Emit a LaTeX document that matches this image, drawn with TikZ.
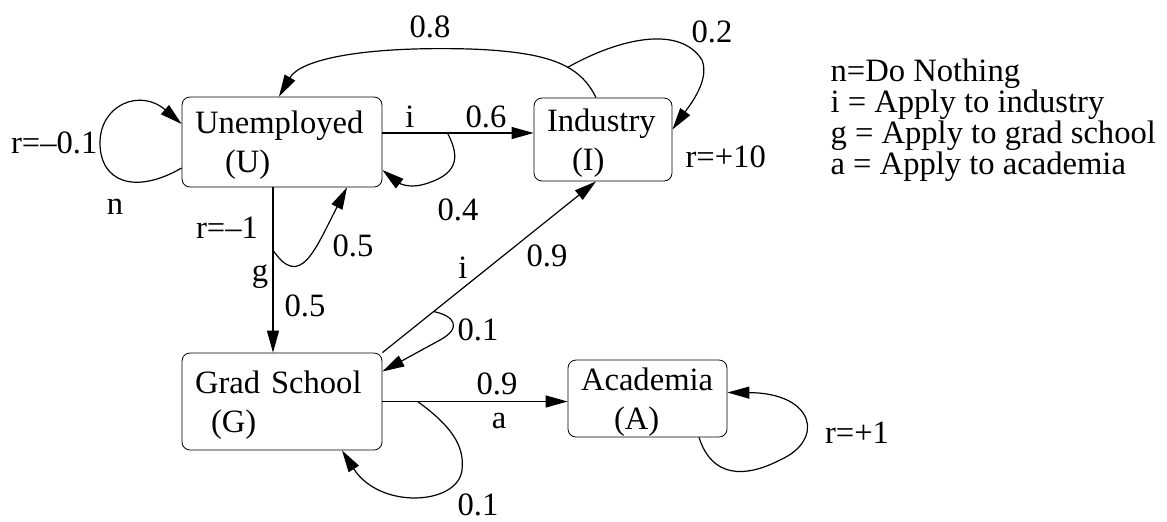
\documentclass[tikz,border=0pt]{standalone}
\usepackage{fontspec}
\setmainfont{Liberation Serif}
\usetikzlibrary{arrows.meta}

\tikzset{
  state/.style={draw, thin, rounded corners=4pt, align=left, inner xsep=6.5pt, inner ysep=2pt,
    font=\fontsize{16.3}{19.5}\selectfont},
  lbl/.style={inner sep=0pt, font=\fontsize{16.3}{19}\selectfont},
}

\begin{document}
\begin{tikzpicture}[x=0.5pt, y=-0.5pt, line width=0.6pt, >={Triangle[length=11pt,width=6pt]}]
\useasboundingbox (0,0) rectangle (1167,521);

% states
\node [state, minimum width=100pt, minimum height=45pt, text width=87pt] (U) at (282,142) {Unemployed\\\hspace*{15pt}\smash{(U)}};
\node [state, minimum width=69pt, minimum height=41.5pt, text width=56pt] (I) at (603,139.5) {Industry\\\hspace*{12.5pt}\smash{(I)}};
\node [state, minimum width=100pt, minimum height=48.5pt, text width=87pt] (G) at (282,401.5) {Grad School\\\hspace*{8pt}\smash{(G)}};
\node [state, minimum width=79.5pt, minimum height=38.5pt, text width=66.5pt] (A) at (647.5,398.5) {Academia\\\hspace*{16.5pt}\smash{(A)}};

% n from U
\draw [->] ([yshift=-13pt]U.west) .. controls (135,195) and (100,182) .. (100,143) .. controls (100,105) and (140,88) .. ([yshift=9pt]U.west);
\node [lbl, anchor=east] (r_U) at (98,143) {r=–0.1};
\node [lbl] (p_n) at (115,207) {n};

% from I
\draw [->] ([xshift=-3.5pt]I.north) .. controls (580,65) and (550,52) .. (470,49) coordinate[pos=0.4] (i_b) .. controls (360,46) and (300,60) .. ([xshift=-1.5pt]U.north);
\draw [->] (i_b) .. controls (620,38) and (680,25) .. (702,60) .. controls (710,80) and (690,105) .. ([yshift=5pt]I.east);
\node [lbl] (p_IU) at (430,27) {0.8};
\node [lbl] (p_II) at (712,32) {0.2};
\node [lbl, anchor=west] (r_I) at (685,157) {r=+10};

% i from U
\draw [->] ([yshift=4.5pt]U.east) coordinate (u_i) -- (u_i -| I.west) coordinate[pos=0.43] (u_ib);
\draw [->] (u_ib) .. controls (462,160) and (455,175) .. (425,184) .. controls (405,190) and (395,180) .. ([yshift=-14pt]U.east);
\node [lbl] (a_Ui) at (410,117) {i};
\node [lbl] (p_UI) at (486,117) {0.6};
\node [lbl] (p_UUi) at (458,210) {0.4};

% g from U
\draw [->] ([xshift=-4.5pt]U.south) coordinate (u_g) -- (u_g |- G.north) coordinate[pos=0.38] (u_gb);
\draw [->] (u_gb) .. controls (300,290) and (315,250) .. ([xshift=32.5pt]U.south);
\node [lbl] (r_G) at (227,228) {r=–1};
\node [lbl] (a_Ug) at (260,277) {g};
\node [lbl] (p_UG) at (305,306) {0.5};
\node [lbl] (p_UUg) at (353,246) {0.5};

% i from G
\draw [->] (G.north east) -- ([xshift=-3.5pt]I.south) coordinate[pos=0.24] (g_ib);
\draw [->] (g_ib) .. controls (455,316) and (462,328) .. (440,340) -- ([yshift=15pt]G.east);
\node [lbl] (a_Gi) at (463,268) {i};
\node [lbl] (p_GI) at (547,256) {0.9};
\node [lbl] (p_GGi) at (478,330) {0.1};

% a from G
\draw [->] (G.east) -- (G.east -| A.west) coordinate[pos=0.19] (g_ab);
\draw [->] (g_ab) .. controls (450,425) and (465,445) .. (462,470) .. controls (458,505) and (380,510) .. ([xshift=30pt]G.south);
\node [lbl] (p_GA) at (497,384) {0.9};
\node [lbl] (a_Ga) at (499,421) {a};
\node [lbl] (p_GGa) at (478,505) {0.1};

% A
\draw [->] ([xshift=25.75pt]A.south) .. controls (712,478) and (745,478) .. (780,460) .. controls (825,440) and (815,393) .. ([yshift=3pt]A.east);
\node [lbl] (r_A) at (857,433) {r=+1};

% key
\node [lbl, anchor=north west, align=left, font=\fontsize{16.3}{15.6}\selectfont] (key) at (830,58) {n=Do Nothing\\i = Apply to industry\\g = Apply to grad school\\a = Apply to academia};
\end{tikzpicture}
\end{document}
